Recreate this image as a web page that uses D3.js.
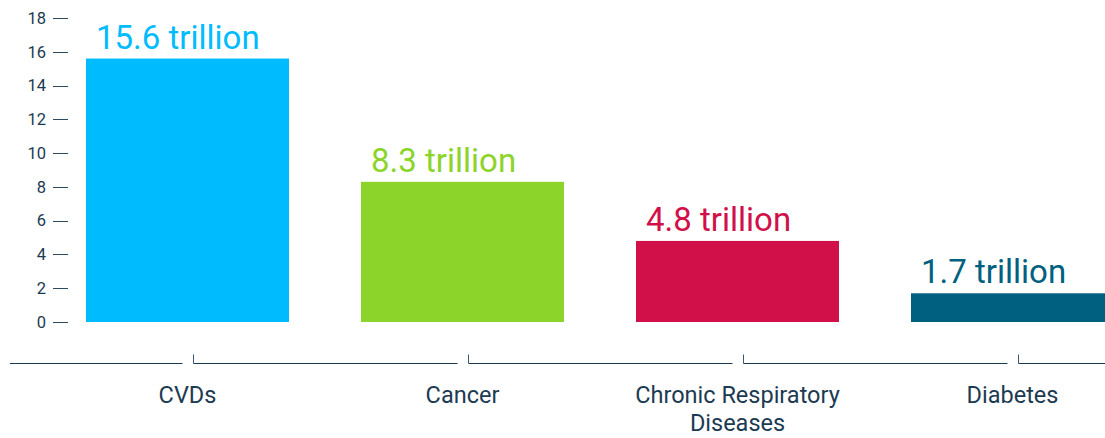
<!DOCTYPE html>
<html><head><meta charset="utf-8">
<script src="https://cdn.jsdelivr.net/npm/d3@7"></script>
<style>
html,body{margin:0;padding:0;background:#fff;overflow:hidden}
text{font-family:Roboto,"Noto Sans",sans-serif}
</style></head>
<body><svg id="c" width="1105" height="438"></svg>
<script>
const categories = ["CVDs", "Cancer", "Chronic Respiratory|Diseases", "Diabetes"];
const values = [15.6, 8.3, 4.8, 1.7];
const valueLabels = ["15.6 trillion", "8.3 trillion", "4.8 trillion", "1.7 trillion"];
const colors = ["#00bcff", "#8cd42a", "#d1104a", "#00607f"];
const yTicks = [0, 2, 4, 6, 8, 10, 12, 14, 16, 18];

const svg = d3.select("#c");
const ink = "#1c3a52";
const x = d3.scaleBand().domain(categories).range([50, 1150]).paddingInner(72/275).paddingOuter(36/275);
const y = d3.scaleLinear().domain([0, 18]).range([322, 18]);

// y axis
const ya = svg.append("g").attr("transform", "translate(68,0)")
  .call(d3.axisLeft(y).tickValues(yTicks).tickSize(15).tickPadding(7).tickFormat(d3.format("d")));
ya.select(".domain").remove();
ya.selectAll(".tick line").attr("stroke", "#2e4a60").attr("stroke-width", 1).attr("shape-rendering", "crispEdges");
ya.selectAll(".tick text").attr("fill", ink).style("font-size", "16.5px").style("font-family", "Roboto");

// bars
svg.append("g").selectAll("rect").data(categories).join("rect")
  .attr("x", d => x(d)).attr("width", x.bandwidth())
  .attr("y", (d, i) => y(values[i])).attr("height", (d, i) => y(0) - y(values[i]))
  .attr("fill", (d, i) => colors[i]);

// value labels
svg.append("g").selectAll("text").data(categories).join("text")
  .attr("x", d => x(d) + 10).attr("y", (d, i) => y(values[i]) - 10)
  .attr("fill", (d, i) => colors[i]).style("font-size", "33px")
  .text((d, i) => valueLabels[i]);

// x axis custom: segments with gaps and upward ticks
const axisY = 363.5;
const tickX = d => Math.round(x(d) + x.bandwidth() / 2 + 5.5) + 0.5;
const xs = categories.map(tickX);
const segs = [[10, xs[0] - 11]];
xs.forEach((t, i) => segs.push([t, i < xs.length - 1 ? xs[i + 1] - 11 : 1105]));
const xa = svg.append("g");
xa.selectAll("line.seg").data(segs).join("line").attr("class", "seg")
  .attr("x1", d => d[0]).attr("x2", d => d[1]).attr("y1", axisY).attr("y2", axisY)
  .attr("stroke", ink).attr("stroke-width", 1);
xa.selectAll("line.tk").data(xs).join("line").attr("class", "tk")
  .attr("x1", d => d).attr("x2", d => d).attr("y1", axisY - 9).attr("y2", axisY)
  .attr("stroke", "#3d5870").attr("stroke-width", 1);

// x labels
const lbl = xa.selectAll("text").data(categories).join("text")
  .attr("x", d => x(d) + x.bandwidth() / 2).attr("y", 403)
  .attr("text-anchor", "middle").attr("fill", ink).style("font-size", "23.5px");
lbl.each(function(d) {
  const parts = d.split("|");
  const t = d3.select(this);
  parts.forEach((p, i) => t.append("tspan").attr("x", x(d) + x.bandwidth() / 2).attr("dy", i ? 28 : 0).text(p));
});
</script></body></html>
